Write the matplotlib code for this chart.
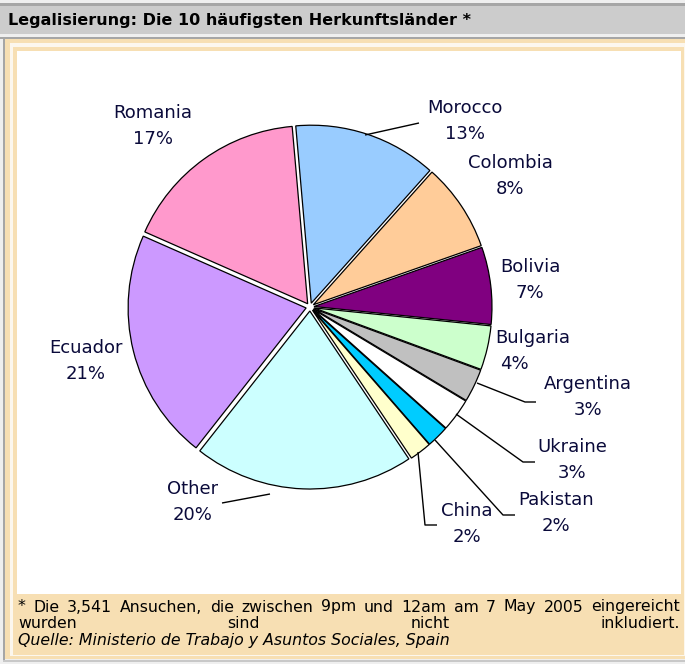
import matplotlib
matplotlib.use("Agg")
import matplotlib.pyplot as plt
from matplotlib.patches import Rectangle

# ---------------- data ----------------
countries = ['Morocco', 'Colombia', 'Bolivia', 'Bulgaria', 'Argentina', 'Ukraine',
             'Pakistan', 'China', 'Other', 'Ecuador', 'Romania']
shares = [13, 8, 7, 4, 3, 3, 2, 2, 20, 21, 17]
colors = ['#99ccff', '#ffcc99', '#800080', '#ccffcc', '#c0c0c0', '#ffffff',
          '#00ccff', '#ffffcc', '#ccffff', '#cc99ff', '#ff99cc']
title = 'Legalisierung: Die 10 häufigsten Herkunftsländer *'
note_line1 = '* Die 3,541 Ansuchen, die zwischen 9pm und 12am am 7 May 2005 eingereicht'
note_line2 = 'wurden sind nicht inkludiert.'
source = 'Quelle: Ministerio de Trabajo y Asuntos Sociales, Spain'

W, H = 685, 664
fig = plt.figure(figsize=(W / 100, H / 100), dpi=100)

# background axes in pixel coordinates
bg = fig.add_axes([0, 0, 1, 1], zorder=0)
bg.set_xlim(0, W)
bg.set_ylim(H, 0)
bg.axis('off')

TAN = '#f7dfb3'
def rect(x0, y0, x1, y1, color):
    bg.add_patch(Rectangle((x0, y0), x1 - x0, y1 - y0, facecolor=color,
                           edgecolor='none'))

rect(0, 0, W, H, '#efefef')
rect(0, 3, W, 6, '#a6a6a6')
rect(0, 6, W, 34, '#cccccc')
rect(0, 37, W, 39, '#a6a6a6')
rect(3, 37, 5, 662, '#a6a6a6')
rect(3, 660, W, 662, '#c8c8c8')
rect(5, 39, W, 659, TAN)
rect(10, 43, W, 656, '#fcf7ee')
rect(13, 47, 684, 655, TAN)
rect(17, 51, 681, 594, '#ffffff')

# ---------------- pie ----------------
cx, cy, R = 310, 307, 178
half = 200
pax = fig.add_axes([(cx - half) / W, 1 - (cy + half) / H, 2 * half / W, 2 * half / H],
                   zorder=1)
pax.pie(shares, colors=colors, startangle=95, counterclock=False,
        radius=R, explode=[4.0] * len(shares), center=(0, 0),
        wedgeprops=dict(edgecolor='black', linewidth=0.9), frame=True)
pax.set_xlim(-half, half)
pax.set_ylim(-half, half)
pax.set_aspect('equal')
pax.axis('off')

# ---------------- overlay (labels, leaders, texts) ----------------
ov = fig.add_axes([0, 0, 1, 1], zorder=2)
ov.set_xlim(0, W)
ov.set_ylim(H, 0)
ov.axis('off')
ov.patch.set_alpha(0)

ov.text(8, 21, title, fontsize=11.5, fontweight='bold', family='DejaVu Sans',
        va='center', ha='left', color='black')

label_pos = {
    'Romania': (153, 113), 'Morocco': (465, 108), 'Colombia': (510, 163),
    'Bolivia': (530, 267), 'Bulgaria': (533, 338), 'Argentina': (588, 384),
    'Ukraine': (572, 447), 'Pakistan': (556, 500), 'China': (467, 511),
    'Other': (193, 489), 'Ecuador': (86, 348),
}
pct_dx = {'Bulgaria': -19}
LC = '#0a0a3a'
for name, v in zip(countries, shares):
    x, y = label_pos[name]
    ov.text(x, y, name, fontsize=13, family='DejaVu Sans', ha='center',
            va='center', color=LC)
    ov.text(x + pct_dx.get(name, 0), y + 26, f'{v}%', fontsize=13,
            family='DejaVu Sans', ha='center', va='center', color=LC)

leaders = [
    [(365, 135), (419, 123)],
    [(477, 383), (525, 402), (536, 402)],
    [(456, 414), (523, 462), (535, 462)],
    [(435, 440), (503, 515), (515, 515)],
    [(418, 452), (425, 525), (437, 525)],
    [(222, 503), (270, 494)],
]
for pts in leaders:
    xs, ys = zip(*pts)
    ov.plot(xs, ys, color='black', linewidth=1.0, solid_capstyle='butt')

# footer, justified first two lines
fig.canvas.draw()
renderer = fig.canvas.get_renderer()

def justify(line, y, x0, x1, **kw):
    words = line.split(' ')
    texts = [ov.text(0, y, w, **kw) for w in words]
    widths = [t.get_window_extent(renderer).width for t in texts]
    gap = (x1 - x0 - sum(widths)) / (len(words) - 1)
    x = x0
    for t, w in zip(texts, widths):
        t.set_x(x)
        x += w + gap

fkw = dict(fontsize=11.3, family='DejaVu Sans', ha='left', va='center', color='black')
justify(note_line1, 607, 18, 680, **fkw)
justify(note_line2, 624, 18, 680, **fkw)
ov.text(18, 641, source, style='italic', **fkw)

fig.savefig('out.png', dpi=100)
